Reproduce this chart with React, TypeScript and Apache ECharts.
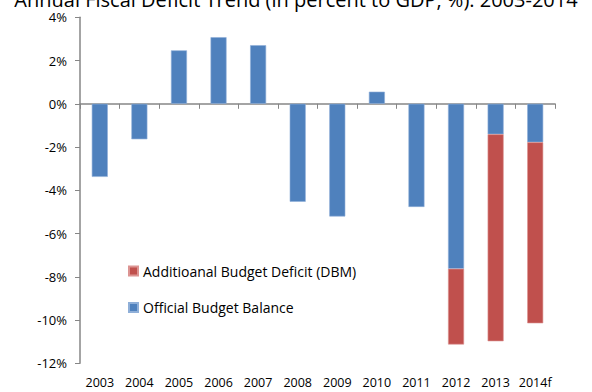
import React, { useEffect, useRef } from "react";
import * as echarts from "echarts";

const title = "Annual Fiscal Deficit Trend (in percent to GDP, %): 2003-2014";
const categories = ["2003", "2004", "2005", "2006", "2007", "2008", "2009", "2010", "2011", "2012", "2013", "2014f"];
const officialName = "Official Budget Balance";
const additionalName = "Additioanal Budget Deficit (DBM)";
const officialBalance = [-3.38, -1.64, 2.47, 3.08, 2.71, -4.53, -5.21, 0.56, -4.77, -7.63, -1.41, -1.78];
const additionalDeficit = [null, null, null, null, null, null, null, null, null, -3.5, -9.57, -8.37];
const yMin = -12;
const yMax = 4;
const yStep = 2;

const FONT = "'Open Sans', 'Noto Sans', sans-serif";
const AXIS = "#868686";

export default function App() {
  const ref = useRef<HTMLDivElement>(null);
  useEffect(() => {
    if (!ref.current) return;
    const chart = echarts.init(ref.current, undefined, { renderer: "svg" });
    chart.setOption({
      animation: false,
      backgroundColor: "#ffffff",
      title: {
        text: title,
        left: "center",
        top: -16,
        textStyle: { fontFamily: FONT, fontSize: 20, fontWeight: "normal", color: "#000" },
      },
      legend: {
        orient: "vertical",
        left: 123,
        top: 258.5,
        data: [additionalName, officialName],
        icon: "rect",
        itemWidth: 9,
        itemHeight: 9,
        itemGap: 21.5,
        textStyle: { fontFamily: FONT, fontSize: 14, color: "#000", lineHeight: 15 },
      },
      grid: { left: 80, right: 37, top: 17.3, bottom: 28.7, containLabel: false },
      xAxis: [
        {
          type: "category",
          data: categories,
          position: "bottom",
          axisLine: { onZero: true, lineStyle: { color: AXIS, width: 1.5 } },
          axisTick: { show: true, length: 5, alignWithLabel: false, lineStyle: { color: AXIS } },
          axisLabel: { show: false },
          splitLine: { show: false },
        },
        {
          type: "category",
          data: categories,
          position: "bottom",
          axisLine: { show: false, onZero: false },
          axisTick: { show: false },
          axisLabel: { show: true, interval: 0, margin: 13, fontFamily: FONT, fontSize: 12.5, color: "#000" },
          splitLine: { show: false },
        },
      ],
      yAxis: {
        type: "value",
        min: yMin,
        max: yMax,
        interval: yStep,
        axisLine: { show: true, lineStyle: { color: AXIS, width: 1.5 } },
        axisTick: { show: true, length: 5, lineStyle: { color: AXIS } },
        axisLabel: {
          margin: 13,
          fontFamily: FONT,
          fontSize: 13,
          color: "#000",
          formatter: (v: number) => `${v}%`,
        },
        splitLine: { show: false },
      },
      series: [
        {
          name: officialName,
          type: "bar",
          stack: "total",
          xAxisIndex: 0,
          barWidth: 16,
          data: officialBalance,
          itemStyle: { color: "#4F81BD", borderColor: "#8FAFD8", borderWidth: 0.6 },
        },
        {
          name: additionalName,
          type: "bar",
          stack: "total",
          xAxisIndex: 0,
          barWidth: 16,
          data: additionalDeficit,
          itemStyle: { color: "#C0504D", borderColor: "#DC9492", borderWidth: 0.6 },
        },
      ],
    });
    return () => chart.dispose();
  }, []);
  return <div ref={ref} style={{ position: "fixed", left: 0, top: 0, width: 592, height: 392 }} />;
}
